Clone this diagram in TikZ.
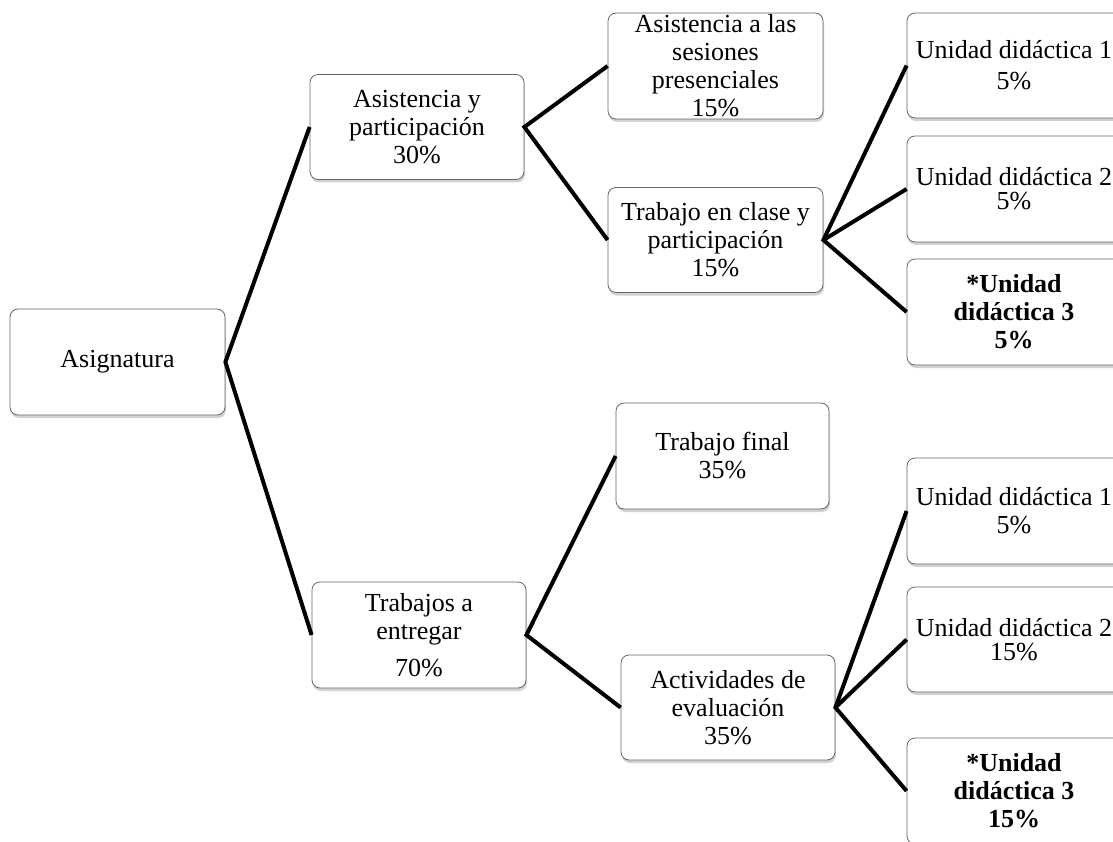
\documentclass[tikz,border=0pt]{standalone}
\usepackage{fontspec}
\setmainfont{Liberation Serif}
\usetikzlibrary{shadows}
\begin{document}
\begin{tikzpicture}[x=1pt,y=-1pt,
  box/.style={draw=black!60, line width=0.8pt, fill=white, rounded corners=8pt,
    minimum width=214pt, minimum height=106pt, inner sep=0pt, align=center,
    font=\fontsize{26}{28}\selectfont,
    drop shadow={opacity=0.35, shadow xshift=1pt, shadow yshift=-3pt}},
  boldbox/.style={box, font=\fontsize{26}{28}\selectfont\bfseries},
  link/.style={line width=4pt, black, line join=miter}]
\useasboundingbox (0,0) rectangle (1113,842);
\clip (0,0) rectangle (1113,842);
\fill[white] (0,0) rectangle (1113,842);

\node[box, minimum width=215pt] (asig) at (117.5,362) {Asignatura};
\node[box, minimum height=105pt] (ap) at (417,127) {Asistencia y\\participación\\30\%};
\node[box] (te) at (419,635) {Trabajos a\\entregar\\[9pt]70\%};
\node[box, minimum width=215pt] (ses) at (715.5,66) {Asistencia a las\\sesiones\\presenciales\\15\%};
\node[box, minimum width=215pt, minimum height=105pt] (tc) at (715.5,240) {Trabajo en clase y\\participación\\15\%};
\node[box, minimum width=213pt] (tf) at (722.5,456) {Trabajo final\\35\%};
\node[box, minimum height=105pt] (ae) at (728,707.5) {Actividades de\\evaluación\\35\%};

\node[box, minimum height=105pt] (u1) at (1014,65.5) {Unidad didáctica 1\\[3pt]5\%};
\node[box] (u2) at (1014,189) {Unidad didáctica 2\\[-4pt]5\%};
\node[boldbox] (u3) at (1014,312) {*Unidad\\didáctica 3\\5\%};
\node[box] (v1) at (1014,511) {Unidad didáctica 1\\5\%};
\node[box, minimum height=105pt] (v2) at (1014,639.5) {Unidad didáctica 2\\[-4pt]15\%};
\node[boldbox] (v3) at (1014,791) {*Unidad\\didáctica 3\\15\%};

\draw[link] (ap.west) -- (asig.east) -- (te.west);
\draw[link] (ses.west) -- (ap.east) -- (tc.west);
\draw[link] (u1.west) -- (tc.east) -- (u3.west);
\draw[link] (tc.east) -- (u2.west);
\draw[link] (tf.west) -- (te.east) -- (ae.west);
\draw[link] (v1.west) -- (ae.east) -- (v3.west);
\draw[link] (ae.east) -- (v2.west);
\end{tikzpicture}
\end{document}
